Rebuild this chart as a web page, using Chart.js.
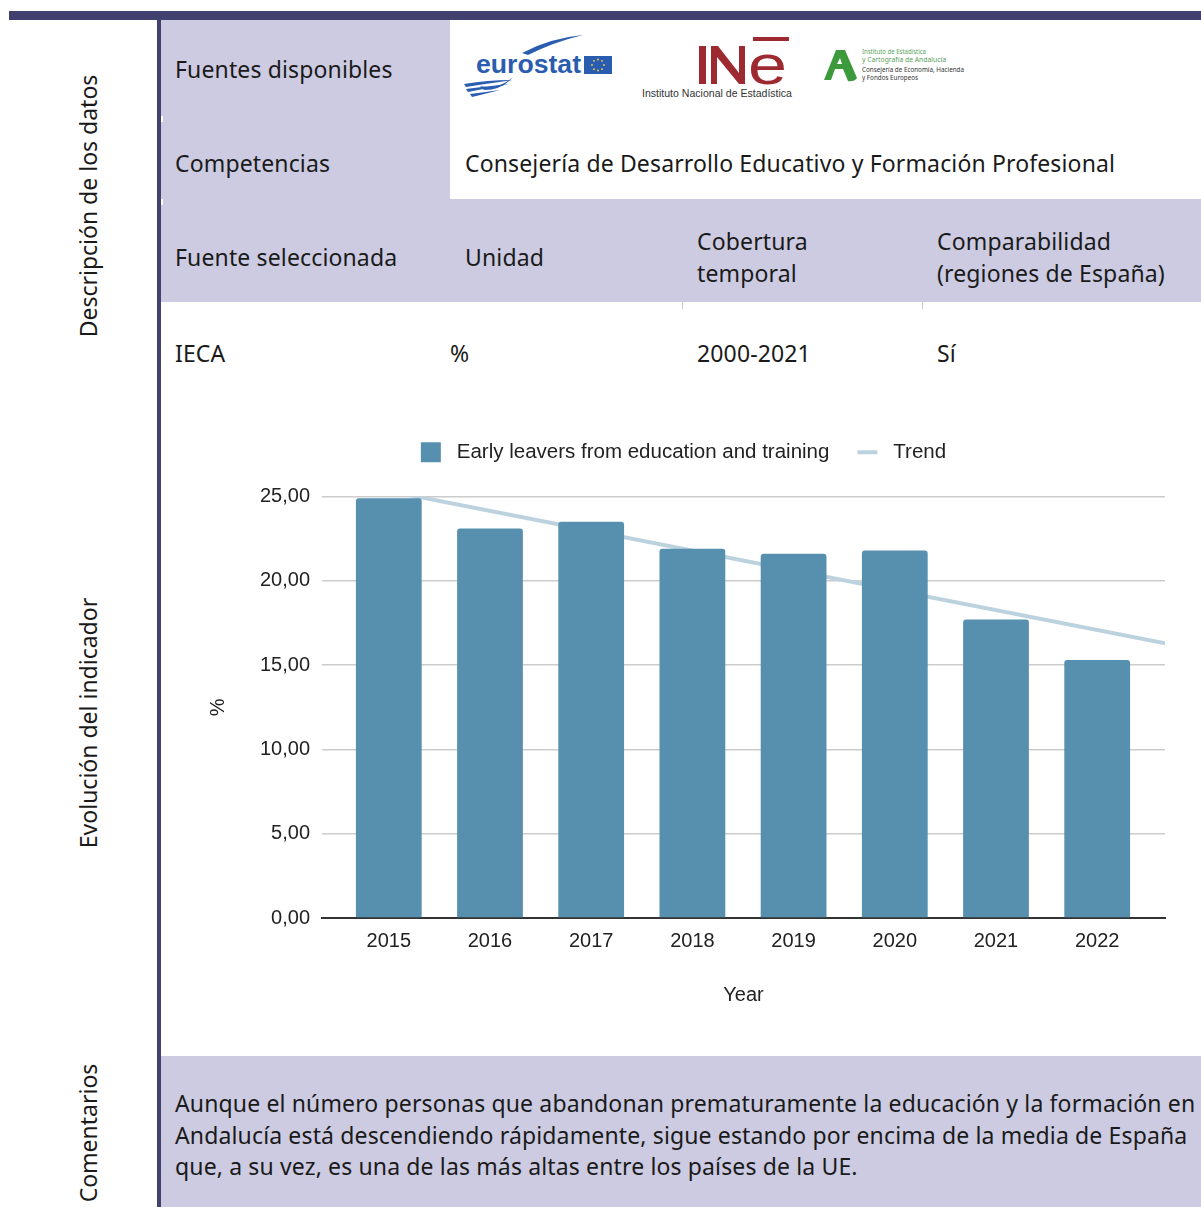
<!DOCTYPE html>
<html><head><meta charset="utf-8">
<script src="https://cdn.jsdelivr.net/npm/chart.js@4.4.1/dist/chart.umd.min.js"></script>
<style>
html,body{margin:0;padding:0;background:#fff;}
body{width:1201px;height:1207px;position:relative;overflow:hidden;font-family:"Noto Sans",sans-serif;color:#1a1a1a;}
.abs{position:absolute;}
.lav{background:#cccbe1;}
.t{position:absolute;font-size:23px;line-height:32px;white-space:nowrap;letter-spacing:0.14px;}
.v{position:absolute;font-size:23px;line-height:28px;white-space:nowrap;transform:translate(-50%,-50%) rotate(-90deg);}
</style></head>
<body>
<div class="abs" style="left:9px;top:11px;width:1192px;height:9px;background:#41416f"></div>
<div class="abs" style="left:157px;top:19px;width:4px;height:1188px;background:#41416f"></div>
<div class="abs lav" style="left:161px;top:20px;width:289px;height:179px"></div>
<div class="abs lav" style="left:161px;top:199px;width:1040px;height:103px"></div>
<div class="abs lav" style="left:161px;top:1056px;width:1040px;height:151px"></div>
<div class="abs" style="left:161px;top:116px;width:2px;height:6px;background:#fff"></div>
<div class="abs" style="left:161px;top:199px;width:2px;height:6px;background:#fff"></div>
<div class="abs" style="left:682px;top:302px;width:1px;height:7px;background:#c8c8c8"></div>
<div class="abs" style="left:922px;top:302px;width:1px;height:7px;background:#c8c8c8"></div>

<div class="v" style="left:88px;top:206px">Descripción de los datos</div>
<div class="v" style="left:88px;top:723px">Evolución del indicador</div>
<div class="v" style="left:88px;top:1133px">Comentarios</div>

<div class="t" style="left:175px;top:53px">Fuentes disponibles</div>
<div class="t" style="left:175px;top:147px">Competencias</div>
<div class="t" style="left:465px;top:147px">Consejería de Desarrollo Educativo y Formación Profesional</div>
<div class="t" style="left:175px;top:241px">Fuente seleccionada</div>
<div class="t" style="left:465px;top:241px">Unidad</div>
<div class="t" style="left:697px;top:225px">Cobertura<br>temporal</div>
<div class="t" style="left:937px;top:225px">Comparabilidad<br>(regiones de España)</div>
<div class="t" style="left:175px;top:337px">IECA</div>
<div class="t" style="left:450px;top:337px">%</div>
<div class="t" style="left:697px;top:337px">2000-2021</div>
<div class="t" style="left:937px;top:337px">Sí</div>
<div class="t" style="left:175px;top:1088px;line-height:31.5px">Aunque el número personas que abandonan prematuramente la educación y la formación en<br>Andalucía está descendiendo rápidamente, sigue estando por encima de la media de España<br>que, a su vez, es una de las más altas entre los países de la UE.</div>

<svg class="abs" style="left:450px;top:20px" width="560" height="90" viewBox="0 0 560 90">
  <!-- eurostat -->
  <path d="M72 33 Q100 18 133 15 Q104 22 78 35 Z" fill="#2a5db0"/>
  <path d="M14 64 Q40 60 63 60 Q40 63 16 67 Z" fill="#2a5db0"/>
  <path d="M16 69 Q40 66 60 64 Q38 68 18 72 Z" fill="#2a5db0"/>
  <path d="M20 74 Q36 72 50 70 Q34 74 22 77 Z" fill="#2a5db0"/>
  <path d="M30 66 Q48 70 63 57 Q52 70 34 70 Z" fill="#2a5db0"/>
  <text x="26" y="52.5" font-family="Liberation Sans, Arial" font-weight="bold" font-size="25" fill="#2a5db0" textLength="105" lengthAdjust="spacingAndGlyphs">eurostat</text>
  <rect x="134" y="36" width="28" height="18" fill="#2a5db0"/>
  <g fill="#f2d33b">
    <circle cx="148" cy="39.5" r="0.9"/><circle cx="152" cy="40.8" r="0.9"/><circle cx="154" cy="45" r="0.9"/><circle cx="152" cy="49.2" r="0.9"/>
    <circle cx="148" cy="50.5" r="0.9"/><circle cx="144" cy="49.2" r="0.9"/><circle cx="142" cy="45" r="0.9"/><circle cx="144" cy="40.8" r="0.9"/>
  </g>
  <!-- INE -->
  <rect x="249" y="26" width="7" height="38" fill="#9d2a30"/>
  <path d="M261 26 H268 L289 53 V26 H295 V64 H289 L267 37 V64 H261 Z" fill="#9d2a30"/>
  <text x="298" y="64" font-family="Liberation Sans, Arial" font-size="56" fill="#9d2a30" textLength="39" lengthAdjust="spacingAndGlyphs">e</text>
  <rect x="303" y="17" width="36" height="4" fill="#9d2a30"/>
  <text x="192" y="77" font-family="Liberation Sans, Arial" font-size="10" fill="#333" textLength="150" lengthAdjust="spacingAndGlyphs">Instituto Nacional de Estadística</text>
  <!-- Andalucia -->
  <path d="M386 30 L395 30 L407 58 Q404 62 398 61 L393 49 L385 49 L381 60 L374 60 Z M387 44 L392 44 L390 38 Z" fill="#3c9a3c"/>
  <text x="412" y="34" font-family="Noto Sans, sans-serif" font-size="7" fill="#5aa05a" textLength="64" lengthAdjust="spacingAndGlyphs">Instituto de Estadística</text>
  <text x="412" y="42" font-family="Noto Sans, sans-serif" font-size="7" fill="#5aa05a" textLength="84" lengthAdjust="spacingAndGlyphs">y Cartografía de Andalucía</text>
  <text x="412" y="52" font-family="Noto Sans, sans-serif" font-size="7" fill="#333" textLength="102" lengthAdjust="spacingAndGlyphs">Consejería de Economía, Hacienda</text>
  <text x="412" y="60" font-family="Noto Sans, sans-serif" font-size="7" fill="#333" textLength="56" lengthAdjust="spacingAndGlyphs">y Fondos Europeos</text>
</svg>

<div class="abs" style="left:161px;top:400px;width:1040px;height:655px"><canvas id="c" width="1040" height="655"></canvas></div>

<script>
const years = [2015, 2016, 2017, 2018, 2019, 2020, 2021, 2022];
const earlyLeavers = [24.9, 23.1, 23.5, 21.9, 21.6, 21.8, 17.7, 15.3];
const trendYears = [2014.34, 2022.67];
const trendValues = [26.1, 16.3];
const yTicks = [0, 5, 10, 15, 20, 25];
const seriesNames = ['Early leavers from education and training', 'Trend'];
const xTitle = 'Year';
const yTitle = '%';

const FONT = 'Liberation Sans, Arial, sans-serif';
const legendMargin = {
  id: 'legendMargin',
  beforeInit(chart) {
    const origFit = chart.legend.fit;
    chart.legend.fit = function () { origFit.bind(chart.legend)(); this.height += 24; };
  }
};
const defaultLabels = Chart.defaults.plugins.legend.labels.generateLabels;

new Chart(document.getElementById('c'), {
  type: 'bar',
  data: {
    datasets: [
      {
        type: 'bar', label: seriesNames[0],
        data: years.map((y, i) => ({x: y, y: earlyLeavers[i]})),
        backgroundColor: '#5790ae', borderRadius: 3, borderSkipped: 'start',
        barPercentage: 0.65, categoryPercentage: 1, pointStyle: 'rect'
      },
      {
        type: 'line', label: seriesNames[1],
        data: trendYears.map((y, i) => ({x: y, y: trendValues[i]})),
        borderColor: '#bcd3df', backgroundColor: '#bcd3df', borderWidth: 4,
        pointRadius: 0, pointStyle: 'line', fill: false, tension: 0
      }
    ]
  },
  options: {
    responsive: false, devicePixelRatio: 1, animation: false,
    layout: {padding: {left: 41, right: 36, top: 14, bottom: 44}},
    plugins: {
      tooltip: {enabled: false},
      legend: {
        position: 'top',
        labels: {
          usePointStyle: true, pointStyleWidth: 20, boxHeight: 20,
          padding: 28, color: '#222', font: {family: FONT, size: 20.5},
          generateLabels: chart => defaultLabels(chart).map(l => Object.assign(l, {text: ' ' + l.text}))
        }
      }
    },
    scales: {
      x: {
        type: 'linear', min: 2014.34, max: 2022.67, offset: false,
        grid: {display: false, drawTicks: false},
        border: {display: true, color: '#333', width: 2},
        afterBuildTicks: s => { s.ticks = years.map(v => ({value: v})); },
        afterFit: s => { s.height = 93; },
        ticks: {callback: v => String(v), color: '#222', font: {family: FONT, size: 20}, padding: 11, autoSkip: false, maxRotation: 0},
        title: {display: true, text: xTitle, color: '#222', font: {family: FONT, size: 20}}
      },
      y: {
        min: 0, max: 25,
        afterBuildTicks: s => { s.ticks = yTicks.map(v => ({value: v})); },
        afterFit: s => { s.width = 120; },
        grid: {color: '#cccccc', lineWidth: 1.5, drawTicks: false},
        border: {display: false},
        ticks: {callback: v => v.toFixed(2).replace('.', ','), color: '#222', font: {family: FONT, size: 20}, padding: 12},
        title: {display: true, text: yTitle, color: '#222', font: {family: FONT, size: 20}}
      }
    }
  },
  plugins: [legendMargin]
});
</script>
</body></html>
